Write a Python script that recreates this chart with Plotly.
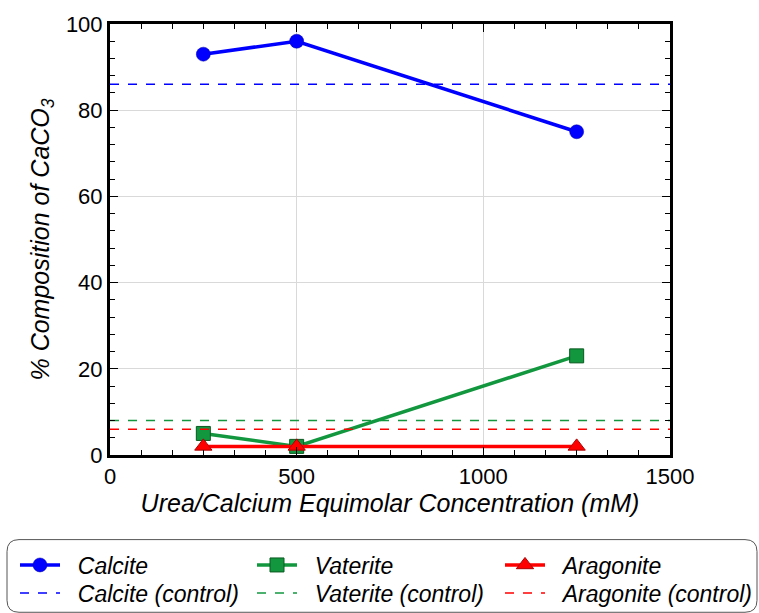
import plotly.graph_objects as go

conc = [250, 500, 1250]
calcite = [93, 96, 75]
vaterite = [5, 2, 23]
aragonite = [2, 2, 2]
ctrl_x = [0, 1500]
calcite_ctrl = 86
vaterite_ctrl = 8
aragonite_ctrl = 6

BLUE = "#0000ff"
GREEN = "#12973f"
RED = "#ff0000"
FONT = "Liberation Sans, Arial"

W, H = 759, 613
ML, MR, MT, MB = 110, 89, 22, 158
PW = W - ML - MR
PAD = "&nbsp;&nbsp;"

fig = go.Figure()
fig.add_trace(go.Scatter(x=conc, y=calcite, name=PAD + "<i>Calcite</i>", mode="lines+markers", legend="legend",
                         line=dict(color=BLUE, width=3.5),
                         marker=dict(symbol="circle", size=14, color=BLUE, line=dict(color="#0000aa", width=0.5))))
fig.add_trace(go.Scatter(x=conc, y=vaterite, name=PAD + "<i>Vaterite</i>", mode="lines+markers", legend="legend2",
                         line=dict(color=GREEN, width=3.5),
                         marker=dict(symbol="square", size=14, color=GREEN, line=dict(color="#0a5a20", width=1))))
fig.add_trace(go.Scatter(x=conc, y=aragonite, name=PAD + "<i>Aragonite</i>", mode="lines+markers", legend="legend3",
                         line=dict(color=RED, width=3.5),
                         marker=dict(symbol="triangle-up", size=15, color=RED, line=dict(color="#aa0000", width=1))))
fig.add_trace(go.Scatter(x=ctrl_x, y=[calcite_ctrl] * 2, name=PAD + "<i>Calcite (control)</i>", mode="lines",
                         legend="legend4", line=dict(color=BLUE, width=1.5, dash="dash")))
fig.add_trace(go.Scatter(x=ctrl_x, y=[vaterite_ctrl] * 2, name=PAD + "<i>Vaterite (control)</i>", mode="lines",
                         legend="legend5", line=dict(color=GREEN, width=1.5, dash="dash")))
fig.add_trace(go.Scatter(x=ctrl_x, y=[aragonite_ctrl] * 2, name=PAD + "<i>Aragonite (control)</i>", mode="lines",
                         legend="legend6", line=dict(color=RED, width=1.5, dash="dash")))

axis_common = dict(showline=True, linecolor="black", linewidth=3, mirror="allticks",
                   ticks="inside", ticklen=8, tickwidth=1, tickcolor="black",
                   showgrid=True, gridcolor="#d9d9d9", gridwidth=1, zeroline=False,
                   tickfont=dict(family=FONT, size=22, color="black"))

fig.update_xaxes(range=[0, 1500], dtick=500, tick0=0,
                 minor=dict(dtick=500 / 6, ticks="inside", ticklen=5, tickcolor="black", showgrid=False),
                 title=dict(text="<i>Urea/Calcium Equimolar Concentration (mM)</i>",
                            font=dict(family=FONT, size=25, color="black"), standoff=5),
                 **axis_common)
fig.update_yaxes(range=[0, 100], dtick=20, tick0=0,
                 minor=dict(dtick=4, ticks="inside", ticklen=5, tickcolor="black", showgrid=False),
                 title=dict(text="<i>% Composition of CaCO<sub>3</sub></i>",
                            font=dict(family=FONT, size=25, color="black"), standoff=10),
                 **axis_common)

# rounded legend frame
x0, x1 = (7 - ML) / PW, (757 - ML) / PW
y0, y1 = (H - MB - 613) / (H - MT - MB), (H - MB - 540) / (H - MT - MB)
rx, ry = 12 / PW, 12 / (H - MT - MB)
path = (f"M {x0+rx},{y1} L {x1-rx},{y1} Q {x1},{y1} {x1},{y1-ry} "
        f"L {x1},{y0+ry} Q {x1},{y0} {x1-rx},{y0} L {x0+rx},{y0} "
        f"Q {x0},{y0} {x0},{y0+ry} L {x0},{y1-ry} Q {x0},{y1} {x0+rx},{y1} Z")
fig.add_shape(type="path", xref="paper", yref="paper", path=path,
              line=dict(color="#555555", width=1), fillcolor="rgba(0,0,0,0)")

col_px = [15, 252, 500]
row_px = [565, 593]
legends = {}
names = ["legend", "legend2", "legend3", "legend4", "legend5", "legend6"]
for i, nm in enumerate(names):
    r, c = divmod(i, 3)
    legends[nm] = dict(orientation="v", xref="paper", yref="container",
                       x=(col_px[c] - ML) / PW, y=1 - row_px[r] / H,
                       xanchor="left", yanchor="middle",
                       font=dict(family=FONT, size=23, color="black"),
                       bgcolor="rgba(0,0,0,0)", itemwidth=40, borderwidth=0)

fig.update_layout(
    width=W, height=H,
    margin=dict(l=ML, r=MR, t=MT, b=MB),
    paper_bgcolor="white", plot_bgcolor="white",
    showlegend=True,
    **legends,
)

fig.write_html("out.html")
